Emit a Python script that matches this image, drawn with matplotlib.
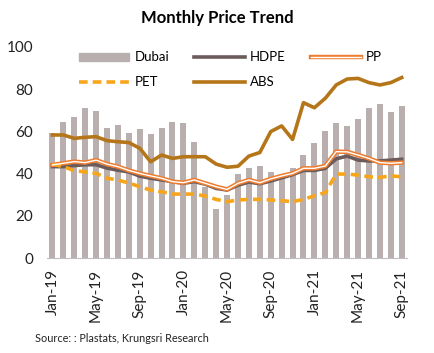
import matplotlib.pyplot as plt
from matplotlib.lines import Line2D
from matplotlib.patches import Patch

plt.rcParams['font.family'] = ['Lato', 'DejaVu Sans']

months = ['Jan-19', 'Feb-19', 'Mar-19', 'Apr-19', 'May-19', 'Jun-19', 'Jul-19', 'Aug-19',
          'Sep-19', 'Oct-19', 'Nov-19', 'Dec-19', 'Jan-20', 'Feb-20', 'Mar-20', 'Apr-20',
          'May-20', 'Jun-20', 'Jul-20', 'Aug-20', 'Sep-20', 'Oct-20', 'Nov-20', 'Dec-20',
          'Jan-21', 'Feb-21', 'Mar-21', 'Apr-21', 'May-21', 'Jun-21', 'Jul-21', 'Aug-21',
          'Sep-21']

dubai = [59, 64.5, 67, 71, 69.5, 61.5, 63, 59, 61, 58.8, 61.8, 64.5, 64, 55, 33.8, 23.4,
         30, 40, 42.8, 43.6, 40.9, 39.5, 42.5, 49, 54.5, 60.3, 64, 62.5, 66, 71, 73, 69, 72]
hdpe = [43.3, 43.3, 43.8, 44.2, 44.2, 42.6, 41.6, 40.8, 38.8, 37.8, 37, 36.2, 35.4, 36.2,
        35, 33, 32.2, 34.5, 36, 35.2, 36.5, 38, 39.5, 41.5, 41.5, 42.5, 47, 48.3, 46.4, 46,
        46, 46.4, 46.8]
pp = [44.1, 44.9, 45.7, 45.2, 46.4, 44.5, 43.3, 41.5, 40.1, 38.9, 37.8, 36.2, 35.7, 37,
      35.4, 33.8, 32.5, 35.4, 37, 35.7, 37.5, 38.9, 40.1, 42.5, 42.5, 43.6, 50.4, 50.3, 48.8,
      47.2, 45.2, 44.9, 45.2]
pet = [44.5, 43.3, 41.4, 40.8, 40.1, 37.8, 37, 35.5, 33.8, 32.2, 31.4, 30.3, 30.3, 30.3,
       29.4, 27.8, 26.7, 27.5, 27.8, 27.8, 27.5, 27.2, 26.7, 27.8, 29.5, 31, 39.8, 39.8, 39.3,
       38.5, 38.2, 38.9, 38.5]
abs_ = [58.3, 58.3, 56.7, 57.2, 57.5, 55.6, 55.1, 54.7, 52, 45.6, 48.8, 47.2, 48, 48, 48,
        44.5, 43, 43.5, 48.3, 50, 59.9, 62.6, 56.2, 73.6, 71.2, 75.7, 82, 84.8, 85.1, 83.1,
        82, 83.1, 85.5]

c_dubai = '#b9afaf'
c_hdpe = '#6b5b5b'
c_pp = '#ed7d31'
c_pet = '#f7a61c'
c_abs = '#b5761a'

fig = plt.figure(figsize=(4.35, 3.53), dpi=100)
ax = fig.add_axes([0.108, 0.269, 0.828, 0.598])

x = list(range(len(months)))
ax.bar(x, dubai, width=0.55, color=c_dubai, zorder=1)
ax.plot(x, hdpe, color=c_hdpe, lw=2.6, zorder=2)
ax.plot(x, pp, color=c_pp, lw=3.2, zorder=3)
ax.plot(x, pp, color='white', lw=1.0, zorder=4)
ax.plot(x, pet, color=c_pet, lw=2.6, ls=(0, (2.4, 1.4)), zorder=3)
ax.plot(x, abs_, color=c_abs, lw=2.6, zorder=3)

ax.set_xlim(-0.5, len(months) - 0.5)
ax.set_ylim(0, 100)
ax.set_yticks(range(0, 101, 20))
ax.set_xticks(x[::4])
ax.set_xticklabels(months[::4], rotation=90)
ax.tick_params(axis='both', length=0, labelsize=11, colors='#222222')
ax.tick_params(axis='x', pad=8)
ax.tick_params(axis='y', pad=10)
for s in ['top', 'right', 'left']:
    ax.spines[s].set_visible(False)
ax.spines['bottom'].set_color('#bfbfbf')

pp_h = (Line2D([], [], color=c_pp, lw=3.2), Line2D([], [], color='white', lw=1.0))
handles = [Patch(color=c_dubai), Line2D([], [], color=c_pet, lw=2.6, ls=(0, (2.4, 1.4))),
           Line2D([], [], color=c_hdpe, lw=2.6), Line2D([], [], color=c_abs, lw=2.6),
           pp_h]
labels = ['Dubai', 'PET', 'HDPE', 'ABS', 'PP']
ax.legend(handles, labels, ncol=3, loc='upper center', bbox_to_anchor=(0.51, 1.035),
          frameon=False, fontsize=9.5, handlelength=3.8, handleheight=0.6,
          columnspacing=1.9, handletextpad=0.4, labelspacing=0.95)

fig.text(0.5, 0.95, 'Monthly Price Trend', ha='center', va='center',
         fontsize=12, fontweight='bold')
fig.text(0.08, 0.04, 'Source: : Plastats, Krungsri Research', ha='left', va='center',
         fontsize=7.8, color='#222222')

fig.savefig('out.png', dpi=100)
